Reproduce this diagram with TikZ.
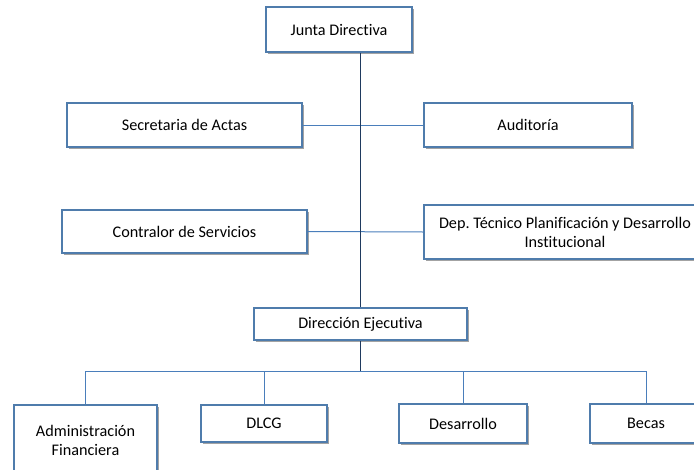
\documentclass[tikz,border=0pt]{standalone}
\usepackage{fontspec}
\setmainfont{Carlito}[Ligatures=CommonOff]
\usetikzlibrary{shadows}
\definecolor{boxline}{HTML}{4F7CAC}
\definecolor{trunkline}{HTML}{1F3A5F}
\definecolor{branchline}{HTML}{4A7EBB}
\frenchspacing
\begin{document}
\begin{tikzpicture}[x=1pt,y=-1pt,
  unit/.style={draw=boxline,line width=1.2pt,fill=white,align=center,
    inner sep=2pt,font=\fontsize{16.2}{19}\selectfont,
    drop shadow={shadow xshift=1.6pt,shadow yshift=-1.6pt,fill=black!45,opacity=0.8}},
  trunk/.style={trunkline,line width=1.4pt},
  branch/.style={branchline,line width=1pt}]
  \useasboundingbox (0,0) rectangle (694,469);
  \clip (0,0) rectangle (694,469);
  % boxes
  \node[unit,minimum width=146pt,minimum height=45pt] (jd) at (339,29.5) {Junta Directiva};
  \node[unit,minimum width=235pt,minimum height=44pt] (sec) at (184.5,125) {Secretaria de Actas};
  \node[unit,minimum width=208pt,minimum height=44pt] (aud) at (528,125) {Auditoría};
  \node[unit,minimum width=245pt,minimum height=43pt] (con) at (184.5,231.5) {Contralor de Servicios};
  \node[unit,minimum width=282pt,minimum height=54pt] (dep) at (565,232) {Dep.\ Técnico Planificación y Desarrollo\\Institucional};
  \node[unit,minimum width=213pt,minimum height=32pt] (dir) at (360.5,324) {Dirección Ejecutiva};
  \node[unit,minimum width=143pt,minimum height=70pt] (adm) at (85.5,440) {Administración\\Financiera};
  \node[unit,minimum width=126pt,minimum height=37pt] (dlcg) at (264,423.5) {DLCG};
  \node[unit,minimum width=128pt,minimum height=39pt] (des) at (463,423.5) {Desarrollo};
  \node[unit,minimum width=112pt,minimum height=39pt] (bec) at (646,423.5) {Becas};
  % lines
  \draw[branch] (sec.east) -- (aud.west);
  \draw[branch] (con.east) -- (dep.west);
  \draw[trunk] (jd.south -| dir.north) -- (dir.north);
  \coordinate (hub) at (360.5,371);
  \draw[trunk] (dir.south) -- (hub);
  \draw[branch] (hub -| adm.north) -- (hub -| bec.north);
  \foreach \n in {adm,dlcg,des,bec} % drops to the units
    \draw[branch] (hub -| \n.north) -- (\n.north);
\end{tikzpicture}
\end{document}
